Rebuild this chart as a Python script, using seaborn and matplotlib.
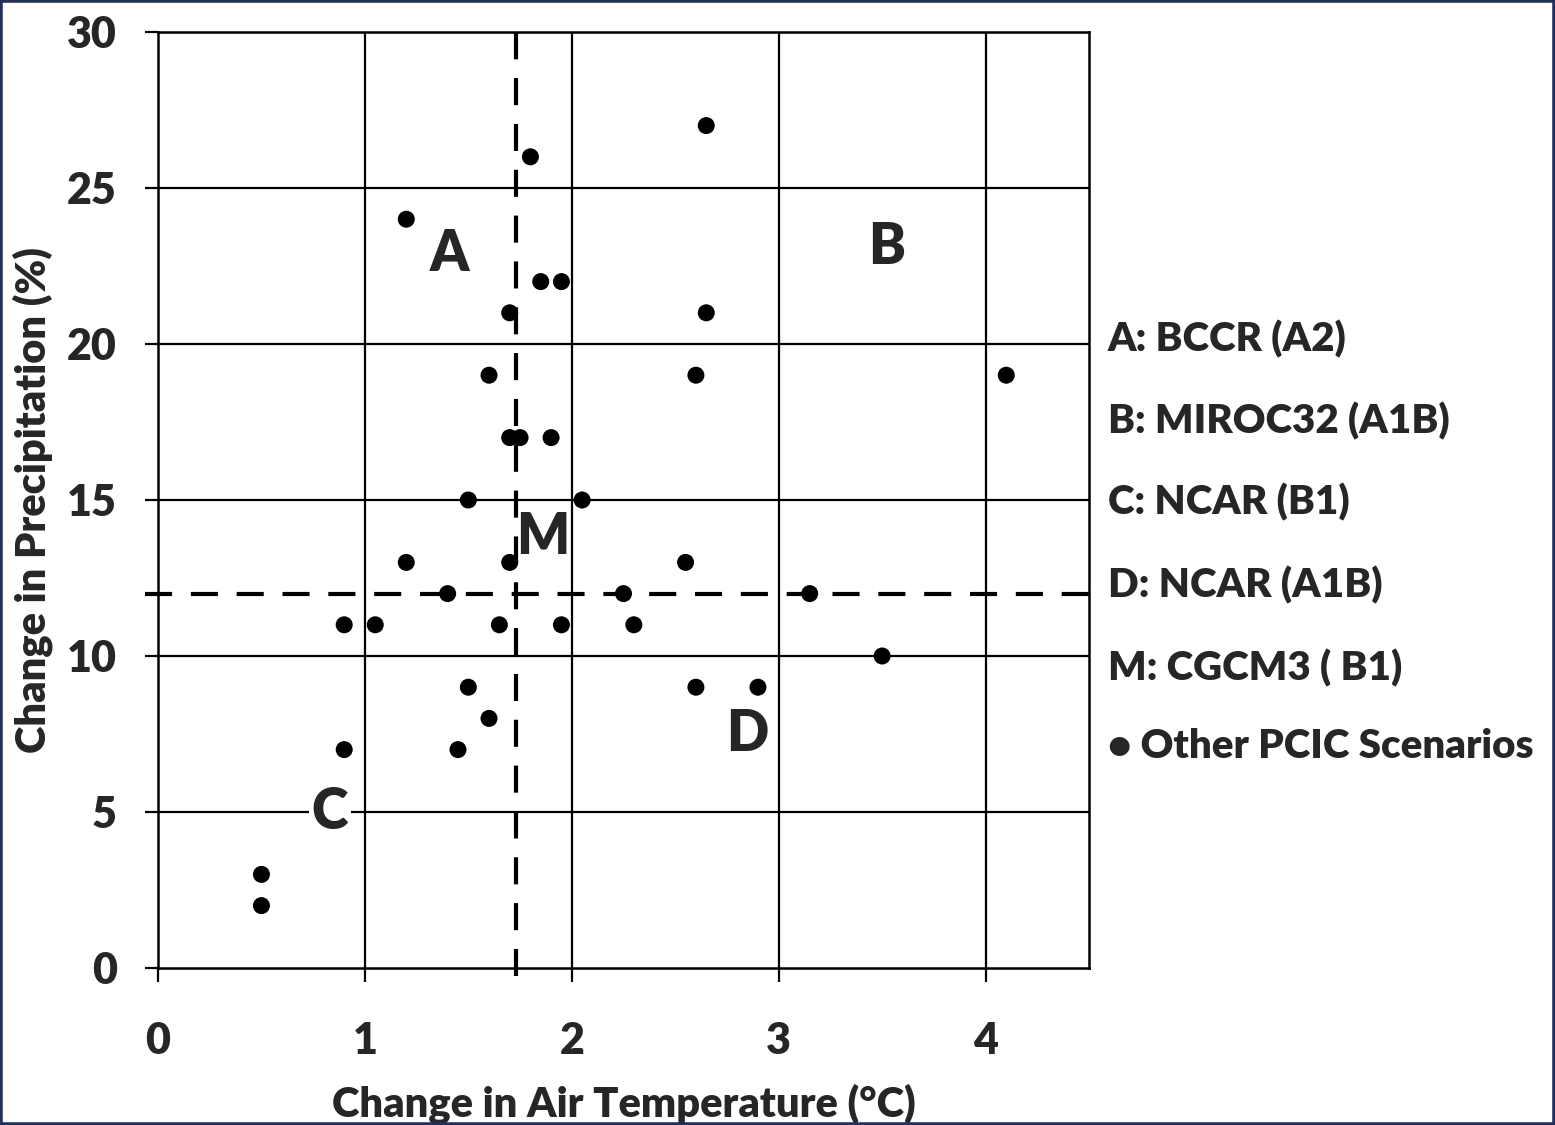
import matplotlib
matplotlib.use("Agg")
import matplotlib.pyplot as plt
from matplotlib.patches import Rectangle
import seaborn as sns
import pandas as pd

# Projected change in air temperature (°C) and precipitation (%) per scenario
temp_change = [1.2, 1.8, 2.65, 1.85, 1.95, 1.7, 2.65, 1.6, 2.6, 4.1,
               1.7, 1.75, 1.9, 1.5, 2.05, 1.2, 1.7, 2.55, 1.4, 2.25,
               3.15, 0.9, 1.05, 1.65, 1.95, 2.3, 3.5, 1.5, 2.6, 2.9,
               1.6, 0.9, 1.45, 0.5, 0.5]
precip_change = [24, 26, 27, 22, 22, 21, 21, 19, 19, 19,
                 17, 17, 17, 15, 15, 13, 13, 13, 12, 12,
                 12, 11, 11, 11, 11, 11, 10, 9, 9, 9,
                 8, 7, 7, 3, 2]

# Median reference lines
median_temp = 1.73
median_precip = 12

# Selected scenario markers
scenario_letters = ["A", "B", "C", "D", "M"]
letter_x = [1.41, 3.52, 0.83, 2.85, 1.86]
letter_y = [22.9, 23.1, 5.0, 7.5, 13.8]

legend_lines = ["A: BCCR (A2)", "B: MIROC32 (A1B)", "C: NCAR (B1)",
                "D: NCAR (A1B)", "M: CGCM3 ( B1)", "\u2022 Other PCIC Scenarios"]

x_ticks = [0, 1, 2, 3, 4]
y_ticks = [0, 5, 10, 15, 20, 25, 30]

sns.set_style("white")
plt.rcParams["font.family"] = ["Lato", "DejaVu Sans"]
WEIGHT = "heavy"

fig = plt.figure(figsize=(15.55, 11.25), dpi=100)
ax = fig.add_axes([158 / 1555, 1 - 968 / 1125, (1089 - 158) / 1555, (968 - 32) / 1125])

df = pd.DataFrame({"temp": temp_change, "precip": precip_change})

ax.set_xlim(0, 4.5)
ax.set_ylim(0, 30)
ax.set_xticks(x_ticks)
ax.set_yticks(y_ticks)

# Solid black grid
for xv in x_ticks[1:]:
    ax.axvline(xv, color="black", lw=1.6, zorder=1)
for yv in y_ticks[1:]:
    ax.axhline(yv, color="black", lw=1.6, zorder=1)

# Median dashed lines extend past the axes a little
ax.plot([median_temp, median_temp], [-0.25, 30], color="black", lw=3,
        dashes=(6.5, 4.5), clip_on=False, zorder=2)
ax.plot([-0.065, 4.5], [median_precip, median_precip], color="black", lw=3,
        dashes=(6.5, 4.5), clip_on=False, zorder=2)

sns.scatterplot(data=df, x="temp", y="precip", ax=ax, color="black",
                s=150, edgecolor="none", zorder=5, legend=False)

for lab, lx, ly in zip(scenario_letters, letter_x, letter_y):
    kw = {}
    if lab == "C":
        kw["bbox"] = dict(facecolor="white", edgecolor="none", pad=2)
    ax.text(lx, ly, lab, fontsize=40, fontweight=WEIGHT, ha="center",
            va="center", zorder=6, **kw)

for side in ["left", "bottom", "right", "top"]:
    ax.spines[side].set_color("black")
    ax.spines[side].set_linewidth(1.8)
    ax.spines[side].set_visible(True)

ax.tick_params(axis="both", which="major", direction="out", length=9.5,
               width=1.6, color="black", labelsize=31, bottom=True, left=True)
ax.tick_params(axis="y", pad=20)
ax.tick_params(axis="x", pad=28, length=10)
for lbl in ax.get_xticklabels() + ax.get_yticklabels():
    lbl.set_fontweight(WEIGHT)

ax.set_xlabel("Change in Air Temperature (\u00b0C)", fontsize=30,
              fontweight=WEIGHT, labelpad=16)
ax.set_ylabel("Change in Precipitation (%)", fontsize=30,
              fontweight=WEIGHT, labelpad=10)

# Side legend text
legend_y_px = [339, 421, 502, 585, 668, 746]
for txt, ypx in zip(legend_lines, legend_y_px):
    fig.text(1108 / 1555, 1 - ypx / 1125, txt, fontsize=29,
             fontweight=WEIGHT, ha="left", va="center")

# Navy frame around the figure
fig.patches.append(Rectangle((0, 0), 1, 1, transform=fig.transFigure,
                             fill=False, edgecolor="#233158", lw=4))

fig.savefig("out.png", dpi=100, facecolor="white")
